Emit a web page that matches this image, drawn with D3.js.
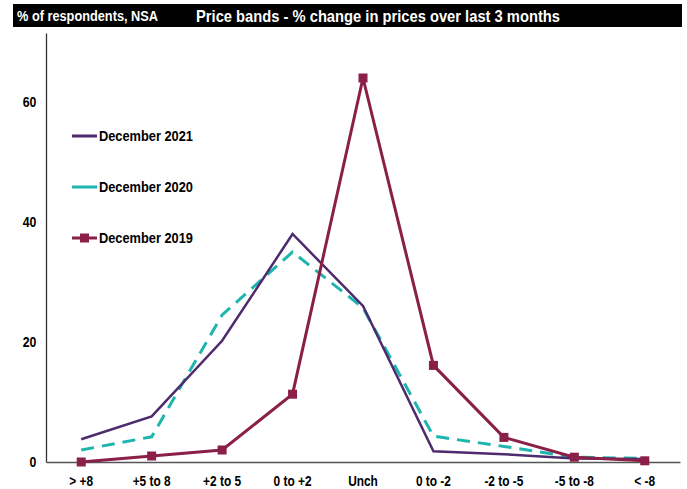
<!DOCTYPE html>
<html>
<head>
<meta charset="utf-8">
<script src="https://cdn.jsdelivr.net/npm/d3@7"></script>
<style>
  body { margin: 0; background: #fff; }
  text { font-family: "Liberation Sans Narrow", "Arial Narrow", "Liberation Sans", sans-serif; }
</style>
</head>
<body>
<div id="chart"></div>
<script>
// price bands
var bands = ["> +8", "+5 to 8", "+2 to 5", "0 to +2", "Unch", "0 to -2", "-2 to -5", "-5 to -8", "< -8"];
var dec2021 = [3.8, 7.6, 20.2, 38.0, 26.0, 1.8, 1.3, 0.6, 0.5];
var dec2020 = [2.0, 4.2, 24.5, 35.0, 25.7, 4.3, 2.6, 0.8, 0.6];
var dec2019 = [0.0, 1.0, 2.0, 11.3, 64.0, 16.1, 4.1, 0.8, 0.2];
var yTicks = [0, 20, 40, 60];
var seriesNames = ["December 2021", "December 2020", "December 2019"];

var width = 687, height = 489;
var svg = d3.select("#chart").append("svg")
  .attr("width", width)
  .attr("height", height);

// header band
svg.append("rect").attr("x", 13).attr("y", 4).attr("width", 669).attr("height", 23).attr("fill", "#000");
svg.append("text").attr("x", 17).attr("y", 21).attr("fill", "#fff")
  .attr("font-size", "14.5px").attr("font-weight", "bold")
  .attr("textLength", 141).attr("lengthAdjust", "spacingAndGlyphs")
  .text("% of respondents, NSA");
svg.append("text").attr("x", 196).attr("y", 21.5).attr("fill", "#fff")
  .attr("font-size", "17px").attr("font-weight", "bold")
  .attr("textLength", 364).attr("lengthAdjust", "spacingAndGlyphs")
  .text("Price bands - % change in prices over last 3 months");

var x = d3.scaleBand().domain(bands).range([46, 680]);
var y = d3.scaleLinear().domain([0, 71.5]).range([462, 33]);

// y axis
var yAxis = svg.append("g")
  .attr("transform", "translate(46,0)")
  .call(d3.axisLeft(y).tickValues(yTicks).tickSize(0).tickPadding(11));
yAxis.select(".domain").attr("stroke", "#333").attr("stroke-width", 1.3);
yAxis.selectAll("text").attr("font-size", "14px").attr("font-weight", "bold").attr("fill", "#000")
  .attr("transform", "scale(0.88,1)")
  .style("font-family", "'Liberation Sans Narrow', 'Arial Narrow', 'Liberation Sans', sans-serif");

// x axis
var xAxis = svg.append("g")
  .attr("transform", "translate(0," + y(0) + ")")
  .call(d3.axisBottom(x).tickSize(0).tickPadding(14));
xAxis.select(".domain").attr("stroke", "#555").attr("stroke-width", 1.5);
xAxis.selectAll("text").attr("font-size", "14px").attr("font-weight", "bold").attr("fill", "#000")
  .attr("transform", "scale(0.85,1)")
  .style("font-family", "'Liberation Sans Narrow', 'Arial Narrow', 'Liberation Sans', sans-serif");

var line = d3.line()
  .x(function(d, i) { return x(bands[i]) + x.bandwidth() / 2; })
  .y(function(d) { return y(d); });

svg.append("path").datum(dec2020)
  .attr("d", line).attr("fill", "none")
  .attr("stroke", "#1db5ae").attr("stroke-width", 3)
  .attr("stroke-dasharray", "13,8");

svg.append("path").datum(dec2021)
  .attr("d", line).attr("fill", "none")
  .attr("stroke", "#4e2a6e").attr("stroke-width", 2.5);

svg.append("path").datum(dec2019)
  .attr("d", line).attr("fill", "none")
  .attr("stroke", "#8a1f48").attr("stroke-width", 3);

svg.selectAll(".mk").data(dec2019).enter().append("rect")
  .attr("class", "mk")
  .attr("x", function(d, i) { return x(bands[i]) + x.bandwidth() / 2 - 4.5; })
  .attr("y", function(d) { return y(d) - 4.5; })
  .attr("width", 9).attr("height", 9)
  .attr("fill", "#8a1f48");

// legend
var legend = [
  {name: seriesNames[0], color: "#4e2a6e", mark: false, y: 136},
  {name: seriesNames[1], color: "#1db5ae", mark: false, y: 187},
  {name: seriesNames[2], color: "#8a1f48", mark: true, y: 238}
];
legend.forEach(function(l) {
  svg.append("line").attr("x1", 72).attr("x2", 97).attr("y1", l.y).attr("y2", l.y)
    .attr("stroke", l.color).attr("stroke-width", 3);
  if (l.mark) {
    svg.append("rect").attr("x", 80).attr("y", l.y - 4.5).attr("width", 9).attr("height", 9).attr("fill", l.color);
  }
  svg.append("text").attr("x", 99).attr("y", l.y + 5)
    .attr("font-size", "14px").attr("font-weight", "bold").attr("fill", "#000")
    .attr("textLength", 94).attr("lengthAdjust", "spacingAndGlyphs")
    .text(l.name);
});
</script>
</body>
</html>
